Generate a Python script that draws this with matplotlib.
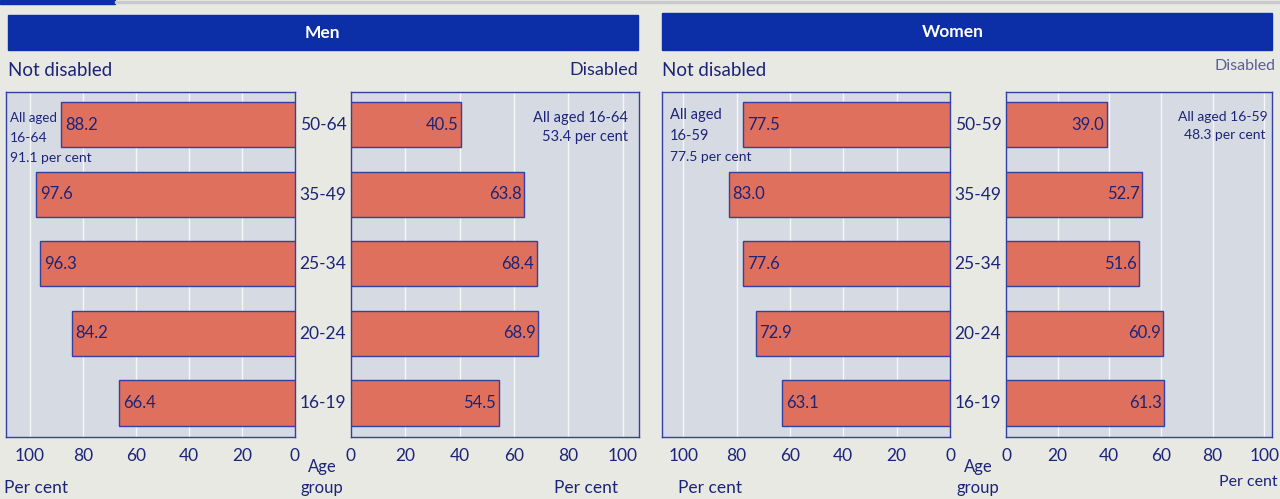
import matplotlib
matplotlib.use('Agg')
import matplotlib.pyplot as plt
from matplotlib.patches import Rectangle

# --- Data ----------------------------------------------------
men_ages = ["50-64", "35-49", "25-34", "20-24", "16-19"]
women_ages = ["50-59", "35-49", "25-34", "20-24", "16-19"]
men_not = [88.2, 97.6, 96.3, 84.2, 66.4]
men_dis = [40.5, 63.8, 68.4, 68.9, 54.5]
women_not = [77.5, 83.0, 77.6, 72.9, 63.1]
women_dis = [39.0, 52.7, 51.6, 60.9, 61.3]
ticks = [0, 20, 40, 60, 80, 100]

# --- Style ---------------------------------------------------
BG = "#e9e9e3"
PANEL = "#d6dae3"
BAR = "#e0705e"
EDGE = "#3440a0"
NAVY = "#1c2478"
HEAD = "#0c2ea6"
FONT = ["Lato", "DejaVu Sans"]

W, H = 1280, 499
fig = plt.figure(figsize=(W / 100, H / 100), dpi=100, facecolor=BG)


def box(x0, y0, x1, y1):
    return [x0 / W, 1 - y1 / H, (x1 - x0) / W, (y1 - y0) / H]


def txt(x, y, s, **kw):
    kw.setdefault("color", NAVY)
    kw.setdefault("family", FONT)
    fig.text(x / W, 1 - y / H, s, **kw)


def rect(x0, y0, x1, y1, color):
    fig.patches.append(Rectangle((x0 / W, 1 - y1 / H), (x1 - x0) / W,
                                 (y1 - y0) / H, transform=fig.transFigure,
                                 color=color, zorder=0))


def panel(pos, vals, xmax, left):
    ax = fig.add_axes(box(*pos))
    ax.set_facecolor(PANEL)
    y = list(range(len(vals)))
    ax.barh(y, vals, height=0.65, color=BAR, edgecolor=EDGE, lw=1, zorder=3)
    ax.set_ylim(len(vals) - 0.51, -0.47)
    if left:
        ax.set_xlim(xmax, 0)
    else:
        ax.set_xlim(0, xmax)
    for g in ticks[1:]:
        ax.axvline(g, color="white", lw=1, alpha=0.8, zorder=1)
    for yi, v in zip(y, vals):
        if left:
            ax.text(v - 1.5, yi, f"{v:.1f}", ha="left", va="center",
                    color=NAVY, fontsize=12, family=FONT, zorder=4)
        else:
            ax.text(v - 1.0, yi, f"{v:.1f}", ha="right", va="center",
                    color=NAVY, fontsize=12, family=FONT, zorder=4)
    ax.set_xticks(ticks)
    ax.set_xticklabels([str(t) for t in ticks], family=FONT)
    ax.tick_params(axis="x", length=0, pad=8, labelsize=12.5,
                   labelcolor=NAVY)
    ax.set_yticks([])
    for s in ax.spines.values():
        s.set_color(EDGE)
        s.set_linewidth(1)
    return ax


# --- Bandeaux ------------------------------------------------
rect(0, 0, 115, 4, HEAD)
rect(115, 1, 1280, 3, "#c8cad0")
rect(8, 15, 638, 50, HEAD)
rect(662, 13, 1272, 50, HEAD)
txt(322, 33, "Men", color="white", fontsize=12.5, weight="bold",
    ha="center", va="center")
txt(953, 32, "Women", color="white", fontsize=12.5, weight="bold",
    ha="center", va="center")

txt(8, 70, "Not disabled", fontsize=13.5, va="center")
txt(638, 70, "Disabled", fontsize=13, va="center", ha="right")
txt(662, 70, "Not disabled", fontsize=13.5, va="center")
txt(1275, 66, "Disabled", fontsize=11.5, va="center", ha="right",
    color="#5a5f9a")

# --- Panneaux ------------------------------------------------
panel((6, 92, 295, 437), men_not, 109, True)
panel((351, 92, 639, 437), men_dis, 106, False)
panel((662, 92, 950, 437), women_not, 108, True)
panel((1006, 92, 1272, 437), women_dis, 103, False)

row_y = [125, 195, 264, 334, 403]
for yy, a in zip(row_y, men_ages):
    txt(323, yy, a, fontsize=12.5, ha="center", va="center")
for yy, a in zip(row_y, women_ages):
    txt(978, yy, a, fontsize=12.5, ha="center", va="center")

# --- Annotations ---------------------------------------------
txt(10, 118, "All aged", fontsize=9.5, va="center")
txt(10, 138, "16-64", fontsize=10, va="center")
txt(10, 158, "91.1 per cent", fontsize=10, va="center")
txt(628, 118, "All aged 16-64", fontsize=10.5, va="center", ha="right")
txt(628, 137, "53.4 per cent", fontsize=10.5, va="center", ha="right")
txt(670, 115, "All aged", fontsize=10.5, va="center")
txt(670, 136, "16-59", fontsize=10.5, va="center")
txt(670, 157, "77.5 per cent", fontsize=10, va="center")
txt(1268, 117, "All aged 16-59", fontsize=10, va="center", ha="right")
txt(1266, 135, "48.3 per cent", fontsize=10, va="center", ha="right")

# --- Légendes d'axes -----------------------------------------
txt(4, 488, "Per cent", fontsize=12.5, va="center")
txt(618, 488, "Per cent", fontsize=12.5, va="center", ha="right")
txt(678, 488, "Per cent", fontsize=12.5, va="center")
txt(1278, 482, "Per cent", fontsize=11.5, va="center", ha="right")
for xc in (322, 978):
    txt(xc, 467, "Age", fontsize=12, va="center", ha="center")
    txt(xc, 488, "group", fontsize=12, va="center", ha="center")

fig.savefig("out.png", dpi=100, facecolor=BG)
